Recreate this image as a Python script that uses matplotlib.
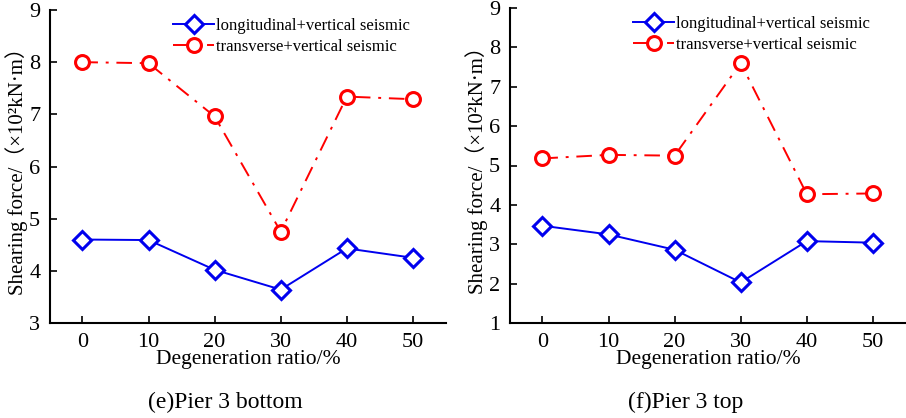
import matplotlib
matplotlib.use("Agg")
import matplotlib.pyplot as plt

ratio = [0, 10, 20, 30, 40, 50]
e_long = [4.60, 4.59, 4.02, 3.64, 4.43, 4.25]
e_trans = [8.00, 7.98, 6.96, 4.75, 7.34, 7.29]
f_long = [3.47, 3.25, 2.86, 2.03, 3.08, 3.04]
f_trans = [5.18, 5.27, 5.25, 7.60, 4.27, 4.29]

plt.rcParams['font.family'] = ['Liberation Serif', 'Noto Sans CJK SC', 'DejaVu Sans']

fig = plt.figure(figsize=(9.06, 4.18), dpi=100)
W, H = 906, 418

def make_ax(l, t, r, b):
    return fig.add_axes([l / W, 1 - b / H, (r - l) / W, (b - t) / H])

axes_specs = [
    (make_ax(50, 10, 446, 323), e_long, e_trans, (3, 9), "(e)Pier 3 bottom", 225),
    (make_ax(510, 8, 906, 323), f_long, f_trans, (1, 9), "(f)Pier 3 top", 686),
]

for ax, lg, tr, ylim, sub, subx in axes_specs:
    ax.plot(ratio, lg, color='#0000ee', lw=1.4, marker='D', ms=9, mfc='white',
            mec='#0000ee', mew=2.2, label='longitudinal+vertical seismic')
    ax.plot(ratio, tr, color='#ff0000', lw=1.4, ls=(0, (8, 4, 1.5, 4)), marker='o', ms=10,
            mfc='white', mec='#ff0000', mew=2.2, label='transverse+vertical seismic')
    ax.set_xlim(-4.9, 55)
    ax.set_ylim(*ylim)
    ax.set_xticks(ratio)
    ax.set_yticks(range(ylim[0], ylim[1] + 1))
    for s in ['top', 'right']:
        ax.spines[s].set_visible(False)
    for s in ['left', 'bottom']:
        ax.spines[s].set_linewidth(1.5)
    ax.tick_params(direction='in', length=5, width=1.2, labelsize=16, pad=7)
    ax.set_xlabel('Degeneration ratio/%', fontsize=15.5, labelpad=-1)
    ax.set_ylabel('Shearing force/（×10²kN·m）', fontsize=15, labelpad=1)
    ax.legend(loc='upper left', bbox_to_anchor=(0.31, 0.974), frameon=False, fontsize=12,
              borderpad=0, borderaxespad=0, handlelength=2.5, handletextpad=0.1,
              labelspacing=0.3)
    fig.text(subx / W, 1 - 402 / H, sub, fontsize=17, ha='center', va='center')

fig.savefig('out.png', dpi=100)
